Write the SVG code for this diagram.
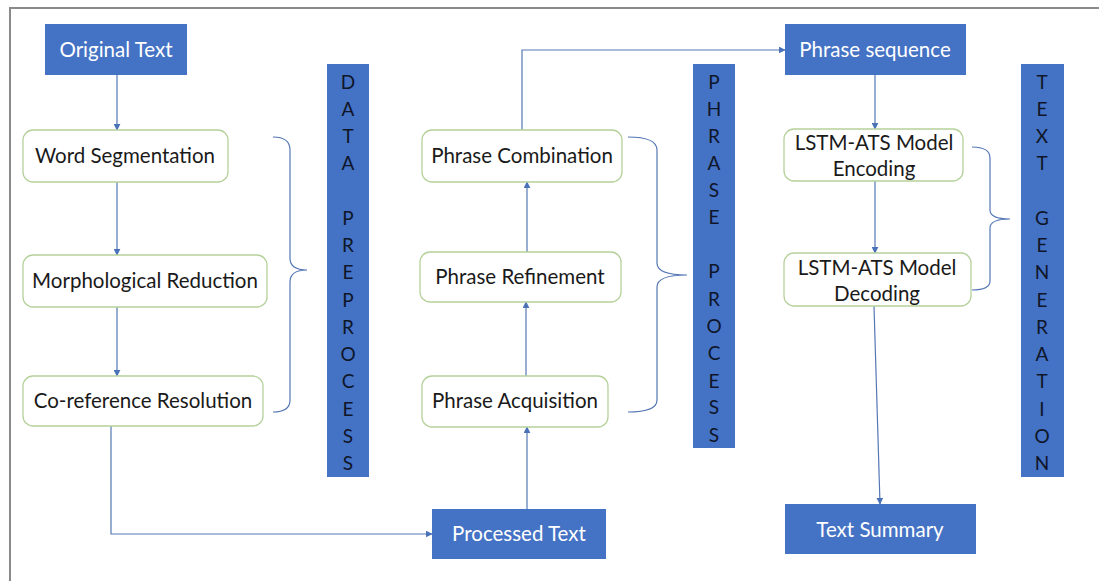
<svg xmlns="http://www.w3.org/2000/svg" width="1099" height="581" viewBox="0 0 1099 581">
<defs>
<marker id="ah" viewBox="0 0 10 10" refX="9" refY="5" markerWidth="7" markerHeight="7" markerUnits="userSpaceOnUse" orient="auto">
<path d="M0,0 L10,5 L0,10 z" fill="#4a72b8"/>
</marker>
<style>
.blue{fill:#4472C4;}
.rnd{fill:#ffffff;stroke:#b5d19a;stroke-width:1.3;}
.wt{font-family:Lato,"Liberation Sans",sans-serif;font-size:20.5px;fill:#ffffff;text-anchor:middle;}
.bt{font-family:Lato,"Liberation Sans",sans-serif;font-size:20.5px;fill:#1a1a1a;text-anchor:middle;}
.vt{font-family:Lato,"Liberation Sans",sans-serif;font-size:19px;fill:#0f1629;text-anchor:middle;}
.cn{fill:none;stroke:#5577b5;stroke-width:1.2;}
.br{fill:none;stroke:#5577b5;stroke-width:1.2;}
</style>
</defs>
<rect x="0" y="0" width="1099" height="581" fill="#ffffff"/>
<path d="M10,581 L10,8 L1099,8" fill="none" stroke="#8a8a8a" stroke-width="2"/>

<g id="connectors">
<path class="cn" d="M117,75 L117,130" marker-end="url(#ah)"/>
<path class="cn" d="M117,182 L117,255" marker-end="url(#ah)"/>
<path class="cn" d="M117,307 L117,376" marker-end="url(#ah)"/>
<path class="cn" d="M111,426 L111,534 L432,534" marker-end="url(#ah)"/>
<path class="cn" d="M527,509 L527,427" marker-end="url(#ah)"/>
<path class="cn" d="M526,376 L526,302" marker-end="url(#ah)"/>
<path class="cn" d="M527,252 L527,182" marker-end="url(#ah)"/>
<path class="cn" d="M522,130 L522,50 L785,50" marker-end="url(#ah)"/>
<path class="cn" d="M875,75 L875,129" marker-end="url(#ah)"/>
<path class="cn" d="M875,181 L875,253" marker-end="url(#ah)"/>
<path class="cn" d="M874,306 L880,504" marker-end="url(#ah)"/>
<path class="br" d="M273,137 Q290,137 290,150 L290,258 Q290,270 307,270 Q290,270 290,282 L290,400 Q290,412 273,412"/>
<path class="br" d="M628,137 Q657,137 657,150 L657,263 Q657,275 687,275 Q657,275 657,287 L657,400 Q657,412 628,412"/>
<path class="br" d="M972,147 Q990,147 990,158 L990,210 Q990,219 1010,219 Q990,219 990,228 L990,281 Q990,290 972,290"/>
</g>

<g id="original-text">
<rect class="blue" x="45" y="24" width="142" height="51"/>
<text class="wt" x="116" y="57">Original Text</text>
</g>
<g id="word-segmentation">
<rect class="rnd" x="23" y="130" width="205" height="52" rx="10"/>
<text class="bt" x="125" y="163">Word Segmentation</text>
</g>
<g id="morphological-reduction">
<rect class="rnd" x="23" y="255" width="244" height="52" rx="10"/>
<text class="bt" x="145" y="288">Morphological Reduction</text>
</g>
<g id="co-reference-resolution">
<rect class="rnd" x="23" y="376" width="240" height="50" rx="10"/>
<text class="bt" x="143" y="408">Co-reference Resolution</text>
</g>
<g id="data-preprocess">
<rect class="blue" x="327" y="64" width="42" height="413"/>
<text class="vt" x="348" y="89">D</text>
<text class="vt" x="348" y="116">A</text>
<text class="vt" x="348" y="143">T</text>
<text class="vt" x="348" y="170">A</text>
<text class="vt" x="348" y="225">P</text>
<text class="vt" x="348" y="252">R</text>
<text class="vt" x="348" y="279">E</text>
<text class="vt" x="348" y="307">P</text>
<text class="vt" x="348" y="334">R</text>
<text class="vt" x="348" y="361">O</text>
<text class="vt" x="348" y="388">C</text>
<text class="vt" x="348" y="416">E</text>
<text class="vt" x="348" y="443">S</text>
<text class="vt" x="348" y="470">S</text>
</g>
<g id="processed-text">
<rect class="blue" x="432" y="509" width="174" height="50"/>
<text class="wt" x="519" y="541">Processed Text</text>
</g>
<g id="phrase-acquisition">
<rect class="rnd" x="422" y="376" width="186" height="51" rx="10"/>
<text class="bt" x="515" y="408">Phrase Acquisition</text>
</g>
<g id="phrase-refinement">
<rect class="rnd" x="420" y="252" width="201" height="50" rx="10"/>
<text class="bt" x="520" y="284">Phrase Refinement</text>
</g>
<g id="phrase-combination">
<rect class="rnd" x="422" y="130" width="200" height="52" rx="10"/>
<text class="bt" x="522" y="163">Phrase Combination</text>
</g>
<g id="phrase-process">
<rect class="blue" x="693" y="64" width="42" height="384"/>
<text class="vt" x="714" y="89">P</text>
<text class="vt" x="714" y="116">H</text>
<text class="vt" x="714" y="143">R</text>
<text class="vt" x="714" y="170">A</text>
<text class="vt" x="714" y="197">S</text>
<text class="vt" x="714" y="224">E</text>
<text class="vt" x="714" y="278">P</text>
<text class="vt" x="714" y="306">R</text>
<text class="vt" x="714" y="333">O</text>
<text class="vt" x="714" y="360">C</text>
<text class="vt" x="714" y="388">E</text>
<text class="vt" x="714" y="414">S</text>
<text class="vt" x="714" y="442">S</text>
</g>
<g id="phrase-sequence">
<rect class="blue" x="785" y="24" width="181" height="51"/>
<text class="wt" x="875" y="57">Phrase sequence</text>
</g>
<g id="lstm-encoding">
<rect class="rnd" x="784" y="129" width="179" height="52" rx="10"/>
<text class="bt" x="874" y="150">LSTM-ATS Model</text>
<text class="bt" x="874" y="176">Encoding</text>
</g>
<g id="lstm-decoding">
<rect class="rnd" x="784" y="253" width="187" height="53" rx="10"/>
<text class="bt" x="877" y="275">LSTM-ATS Model</text>
<text class="bt" x="877" y="301">Decoding</text>
</g>
<g id="text-summary">
<rect class="blue" x="785" y="504" width="191" height="50"/>
<text class="wt" x="880" y="537">Text Summary</text>
</g>
<g id="text-generation">
<rect class="blue" x="1021" y="64" width="43" height="413"/>
<text class="vt" x="1042" y="89">T</text>
<text class="vt" x="1042" y="116">E</text>
<text class="vt" x="1042" y="143">X</text>
<text class="vt" x="1042" y="170">T</text>
<text class="vt" x="1042" y="225">G</text>
<text class="vt" x="1042" y="252">E</text>
<text class="vt" x="1042" y="279">N</text>
<text class="vt" x="1042" y="307">E</text>
<text class="vt" x="1042" y="334">R</text>
<text class="vt" x="1042" y="361">A</text>
<text class="vt" x="1042" y="388">T</text>
<text class="vt" x="1042" y="416">I</text>
<text class="vt" x="1042" y="443">O</text>
<text class="vt" x="1042" y="470">N</text>
</g>
</svg>
